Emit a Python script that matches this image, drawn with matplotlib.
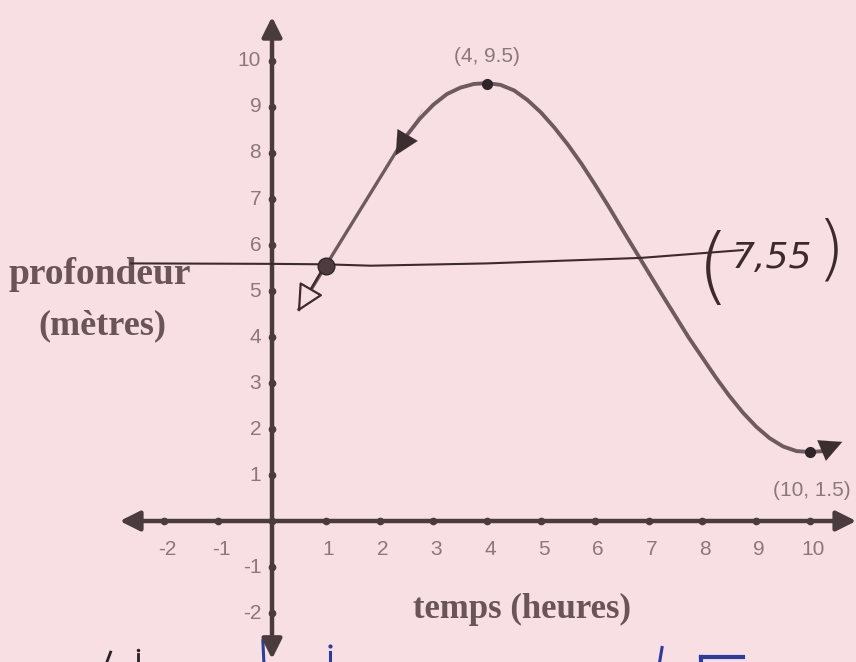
import matplotlib
matplotlib.use("Agg")
import matplotlib.pyplot as plt
from matplotlib.patches import FancyArrowPatch

# --- data -------------------------------------------------------------
x_ticks = [-2, -1, 1, 2, 3, 4, 5, 6, 7, 8, 9, 10]
y_ticks = [-2, -1, 1, 2, 3, 4, 5, 6, 7, 8, 9, 10]

# printed depth curve (time in hours, depth in metres)
curve_t = [2.45, 2.75, 3.0, 3.25, 3.5, 3.75, 4.0, 4.25, 4.5, 4.75, 5.0,
           5.25, 5.5, 5.75, 6.0, 6.25, 6.5, 6.75, 7.0, 7.25, 7.5, 7.75,
           8.0, 8.25, 8.5, 8.75, 9.0, 9.25, 9.5, 9.75, 10.0, 10.25, 10.45]
curve_y = [8.3, 8.75, 9.05, 9.28, 9.42, 9.5, 9.52, 9.48, 9.36, 9.15, 8.88,
           8.55, 8.18, 7.77, 7.32, 6.85, 6.36, 5.88, 5.4, 4.92, 4.45, 3.98,
           3.55, 3.12, 2.72, 2.36, 2.05, 1.8, 1.62, 1.52, 1.5, 1.52, 1.62]

# straight segment continuing the curve downwards through (1, 5.5)
seg_t = [2.45, 1.0, 0.5]
seg_y = [8.3, 5.55, 4.6]

# labelled points
max_pt = (4, 9.5)
min_pt = (10, 1.5)
mid_pt = (1, 5.55)

# hand-drawn horizontal line at the mid depth
hline_t = [-2.62, 0.0, 1.0, 1.84, 4.0, 6.86, 8.75]
hline_y = [5.6, 5.59, 5.58, 5.55, 5.6, 5.72, 5.89]

# --- styling ----------------------------------------------------------
BG = "#f8dfe3"
AXIS = "#4a3b3f"
CURVE = "#6e5b5f"
INK = "#3d2a2d"
LABEL = "#6a5458"
TICKLBL = "#8c777b"
BLUE = "#2b3c9a"

fig = plt.figure(figsize=(8.56, 6.62), dpi=100, facecolor=BG)
ax = fig.add_axes([0, 0, 1, 1], facecolor=BG)
ax.set_xlim(-5.056, 10.855)
ax.set_ylim(-3.065, 11.326)
ax.axis("off")


def arrow(p0, p1, color, lw, scale, style="-|>", z=3, fc=None):
    a = FancyArrowPatch(p0, p1, arrowstyle=style, mutation_scale=scale,
                        color=color, lw=lw, zorder=z, shrinkA=0, shrinkB=0)
    if fc is not None:
        a.set_facecolor(fc)
    ax.add_patch(a)


# axes with arrows at both ends
arrow((0, 0), (-2.83, 0), AXIS, 3.2, 30)
arrow((0, 0), (10.86, 0), AXIS, 3.2, 30)
arrow((0, 0), (0, 10.96), AXIS, 3.2, 30)
arrow((0, 0), (0, -3.0), AXIS, 3.2, 30)

# tick dots
ax.plot(x_ticks + [0], [0] * (len(x_ticks) + 1), "o", color=AXIS, ms=4.5, zorder=4)
ax.plot([0] * len(y_ticks), y_ticks, "o", color=AXIS, ms=4.5, zorder=4)

narrow = ["Liberation Sans", "DejaVu Sans"]
for t in x_ticks:
    ax.text(t + 0.05, -0.62, str(t), ha="center", va="center",
            fontsize=15, color=TICKLBL, family=narrow)
for t in y_ticks:
    ax.text(-0.2, t, str(t), ha="right", va="center",
            fontsize=15, color=TICKLBL, family=narrow)

# axis titles
serif = ["Liberation Serif", "DejaVu Serif"]
ax.text(-3.2, 5.35, "profondeur", ha="center", va="center",
        fontsize=27, color=LABEL, family=serif, fontweight="bold")
ax.text(-3.15, 4.24, "(mètres)", ha="center", va="center",
        fontsize=26, color=LABEL, family=serif, fontweight="bold")
ax.text(4.65, -1.93, "temps (heures)", ha="center", va="center",
        fontsize=25, color=LABEL, family=serif, fontweight="bold")

# curve and its points
ax.plot(curve_t, curve_y, color=CURVE, lw=2.8, solid_capstyle="round", zorder=5)
ax.plot(seg_t, seg_y, color=CURVE, lw=2.4, zorder=5)
arrow((2.8, 8.95), (2.3, 7.95), "#3a2e31", 0.1, 42, z=6)
arrow((10.15, 1.5), (10.6, 1.72), "#3a2e31", 0.1, 40, z=6)
ax.plot(*zip(max_pt, min_pt), "o", color="#2f2528", ms=7, zorder=7)
ax.plot(*mid_pt, "o", color="#4d3c3f", ms=12, mec="#2f2528", zorder=7)

ax.text(max_pt[0], max_pt[1] + 0.6, "(4, 9.5)", ha="center", va="center",
        fontsize=15, color=TICKLBL, family=narrow)
ax.text(min_pt[0] + 0.04, min_pt[1] - 0.83, "(10, 1.5)", ha="center",
        va="center", fontsize=15, color=TICKLBL, family=narrow)

# open arrow at the lower end of the straight segment
arrow((0.95, 5.5), (0.48, 4.55), INK, 1.6, 42, style="-|>", z=6, fc=BG)

# hand-drawn mid-depth line and annotation
ax.plot(hline_t, hline_y, color=INK, lw=1.5, zorder=6)
hand = ["DejaVu Sans"]
ax.text(8.2, 5.45, "(", ha="center", va="center", fontsize=60,
        color=INK, family=hand, fontweight="light")
ax.text(9.3, 5.72, "7,55", ha="center", va="center", fontsize=26,
        color=INK, family=hand, fontweight="light", style="italic")
ax.text(10.38, 5.85, ")", ha="center", va="center", fontsize=52,
        color=INK, family=hand, fontweight="light")

# fragments of handwriting at the lower edge
ax.plot([-0.17, -0.15], [-2.6, -3.1], color=BLUE, lw=2.2)
ax.plot([-0.17, -0.05], [-2.6, -2.6], color=BLUE, lw=2.2)
ax.plot([1.07, 1.07], [-2.85, -3.1], color=BLUE, lw=2.2)
ax.plot([1.07], [-2.72], ".", color=BLUE, ms=4)
ax.plot([7.25, 7.2], [-2.75, -3.1], color=BLUE, lw=2.2)
ax.plot([7.97, 8.75], [-2.95, -2.95], color=BLUE, lw=3)
ax.plot([7.97, 7.97], [-2.95, -3.1], color=BLUE, lw=3)
ax.plot([-3.0, -3.08], [-2.85, -3.1], color="#2a2224", lw=2)
ax.plot([-2.5, -2.5], [-2.9, -3.1], color="#2a2224", lw=2)
ax.plot([-2.5], [-2.8], ".", color="#2a2224", ms=3)

fig.savefig("out.png", dpi=100, facecolor=BG)
